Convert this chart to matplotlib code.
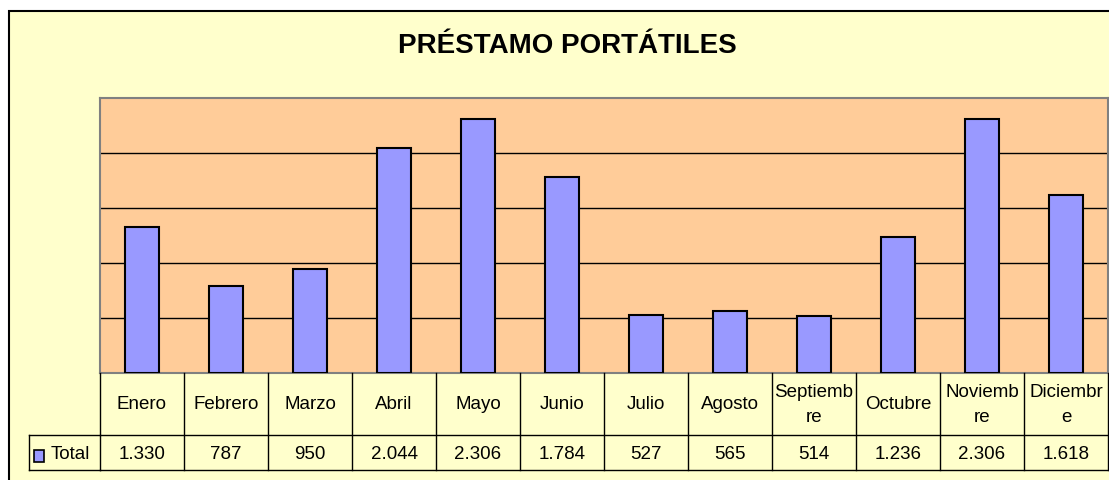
import matplotlib
matplotlib.use("Agg")
import matplotlib.pyplot as plt
from matplotlib.patches import Rectangle
from matplotlib.lines import Line2D
from matplotlib.transforms import blended_transform_factory

# ---- data ----
months = ["Enero", "Febrero", "Marzo", "Abril", "Mayo", "Junio", "Julio",
          "Agosto", "Septiembre", "Octubre", "Noviembre", "Diciembre"]
header_labels = ["Enero", "Febrero", "Marzo", "Abril", "Mayo", "Junio", "Julio",
                 "Agosto", "Septiemb\nre", "Octubre", "Noviemb\nre", "Diciembr\ne"]
totals = [1330, 787, 950, 2044, 2306, 1784, 527, 565, 514, 1236, 2306, 1618]
series_name = "Total"
title = "PRÉSTAMO PORTÁTILES"
y_max = 2500
y_ticks = [0, 500, 1000, 1500, 2000, 2500]

W, H = 1109, 481
plt.rcParams['font.family'] = ['Liberation Sans', 'DejaVu Sans']

fig = plt.figure(figsize=(W / 100, H / 100), dpi=100)
fig.patch.set_facecolor("white")

def fx(px):
    return px / W

def fy(py):
    return 1 - py / H

# outer chart area (yellow) with black top/left border
bg = Rectangle((fx(9), fy(H + 20)), fx(W + 20 - 9), fy(12) - fy(H + 20),
               transform=fig.transFigure, facecolor="#FFFFCC",
               edgecolor="black", linewidth=1.5, zorder=-10)
fig.patches.append(bg)

# plot area
left, right, top, bottom = 100, 1108, 99, 374
ax = fig.add_axes([fx(left), fy(bottom), fx(right - left), fy(top) - fy(bottom)])
ax.set_zorder(1)
ax.set_facecolor("#FFCC99")
ax.set_xlim(-0.5, len(months) - 0.5)
ax.set_ylim(0, y_max)
for t in y_ticks[1:-1]:
    ax.axhline(t, color="black", linewidth=1.0, zorder=1)
ax.bar(range(len(months)), totals, width=0.4, color="#9999FF",
       edgecolor="black", linewidth=1.5, zorder=3)
ax.set_xticks([])
ax.set_yticks([])
for s in ax.spines.values():
    s.set_color("#808080")
    s.set_linewidth(1.5)

# title
fig.text(fx(567), fy(46), title, ha="center", va="center",
         fontsize=20, fontweight="bold", color="black")

# data table below plot
tr = blended_transform_factory(ax.transData, fig.transFigure)
row1_top, row1_bot, row2_bot = 374, 436, 471
n = len(months)
lw = 1.0
for yy in [row1_bot, row2_bot]:
    fig.add_artist(Line2D([-0.5, n - 0.5], [fy(yy), fy(yy)], transform=tr,
                          color="black", linewidth=lw, clip_on=False, zorder=2))
for i in range(n + 1):
    x = i - 0.5
    fig.add_artist(Line2D([x, x], [fy(row1_top), fy(row2_bot)], transform=tr,
                          color="black", linewidth=lw, clip_on=False, zorder=2))
# legend cell
for (xs, ys) in [([29, 100], [row1_bot, row1_bot]),
                 ([29, 100], [row2_bot, row2_bot]),
                 ([29, 29], [row1_bot, row2_bot])]:
    fig.add_artist(Line2D([fx(v) for v in xs], [fy(v) for v in ys],
                          transform=fig.transFigure, color="black", linewidth=lw, zorder=2))
fig.add_artist(Rectangle((fx(34), fy(463)), fx(10), fy(451) - fy(463),
                         transform=fig.transFigure, facecolor="#9999FF",
                         edgecolor="black", linewidth=1.2, zorder=5))
fig.text(fx(51), fy(455), series_name, ha="left", va="center", fontsize=13.5)

for i, (lab, v) in enumerate(zip(header_labels, totals)):
    fig.text(i, fy((row1_top + row1_bot) / 2), lab, transform=tr,
             ha="center", va="center", fontsize=13.5, linespacing=1.65)
    s = f"{v:,}".replace(",", ".")
    fig.text(i, fy((row1_bot + row2_bot) / 2 + 1), s, transform=tr,
             ha="center", va="center", fontsize=13.5)

fig.savefig("out.png", dpi=100, facecolor=fig.get_facecolor())
